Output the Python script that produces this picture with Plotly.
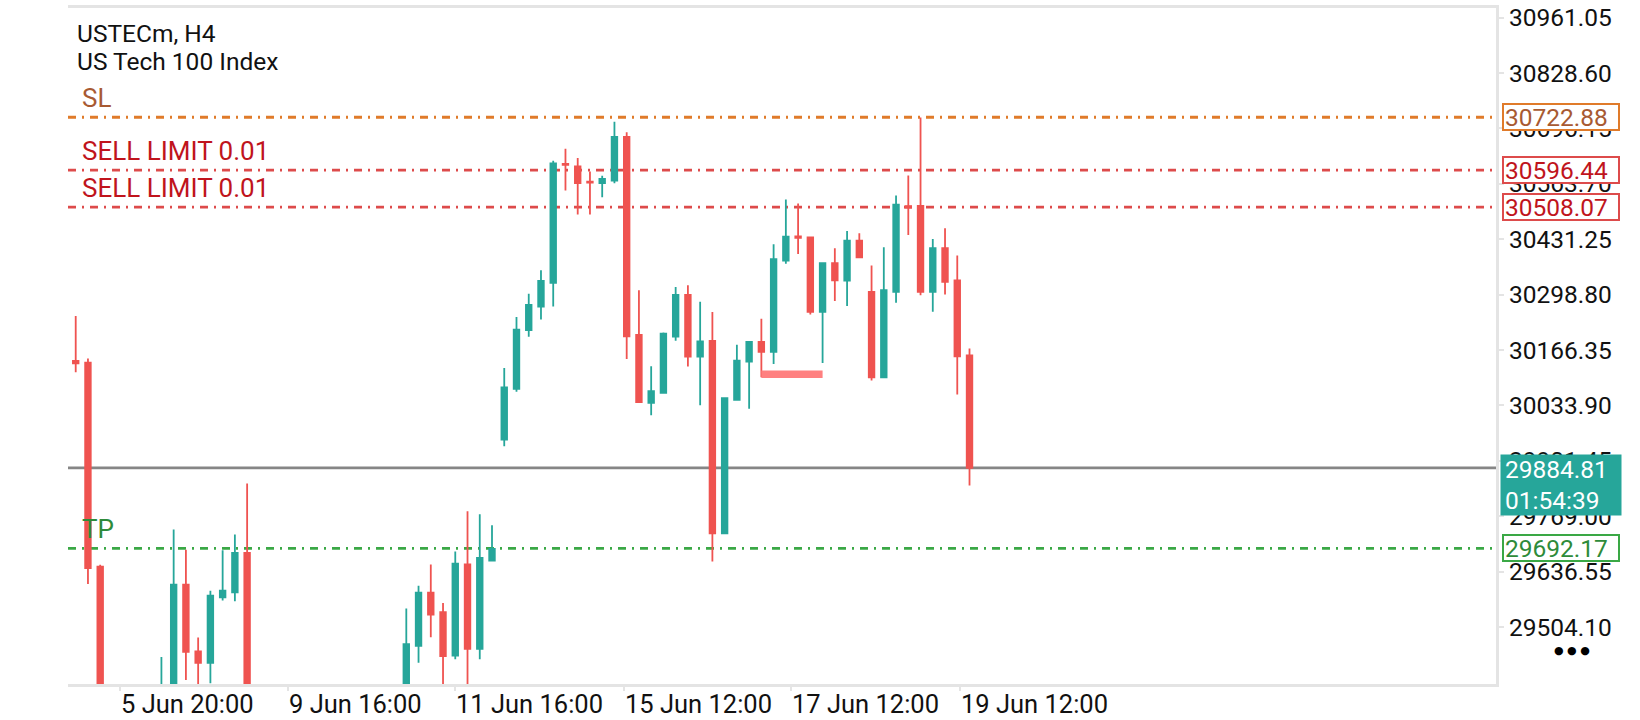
import plotly.graph_objects as go

# USTECm H4 candles (prices below the visible floor are estimated)
opens = [30140.5, 30136.0, 29648.9, 29290, 29215, 29270, 29300, 29320, 29360, 29605.4,
         29446.0, 29418.7, 29575.3, 29587.2, 29681.4, 29330, 29270, 29290, 29320, 29280,
         29250, 29230, 29270, 29310, 29290, 29320, 29300, 29330, 29459.0, 29586.4,
         29539.9, 29436.2, 29653.8, 29452.1, 29662.9, 29952.3, 30073.6, 30214.1, 30270.3, 30327.3,
         30611.5, 30605.6, 30568.8, 30565.3, 30571.4, 30675.8, 30202.7, 30040.4, 30064.1, 30198.7,
         30298.3, 30150.5, 30188.4, 29728.1, 30047.5, 30138.6, 30186.1, 30162.3, 30380.2, 30438.3,
         30435.9, 30258.0, 30374.2, 30332.2, 30428.1, 30305.4, 30101.4, 30305.4, 30510.7, 30511.2,
         30305.4, 30409.8, 30333.2, 30153.6]
highs = [30247.8, 30146.4, 29652.9, 29335, 29290, 29340, 29360, 29432.9, 29737.6, 29689.2,
         29479.0, 29591.2, 29687.8, 29725.7, 29847.5, 29365, 29310, 29350, 29355, 29330,
         29300, 29290, 29340, 29350, 29340, 29360, 29355, 29548.5, 29603.0, 29653.8,
         29561.8, 29684.7, 29781.3, 29774.1, 29747.8, 30123.7, 30245.6, 30300.9, 30357.2, 30618.7,
         30647.6, 30625.8, 30593.3, 30582.8, 30711.9, 30687.2, 30309.5, 30127.5, 30208.1, 30317.3,
         30321.3, 30281.7, 30257.3, 30051.5, 30179.0, 30186.1, 30241.4, 30419.3, 30526.1, 30516.6,
         30435.9, 30374.2, 30409.8, 30450.9, 30445.4, 30368.8, 30412.2, 30535.6, 30583.8, 30722.3,
         30431.9, 30457.3, 30392.5, 30170.2]
lows = [30113.2, 29607.1, 29262.0, 29180, 29150, 29230, 29255, 29290, 29340, 29377.6,
        29350, 29370, 29567.5, 29565.8, 29300, 29240, 29200, 29250, 29260, 29220,
        29190, 29180, 29240, 29270, 29230, 29280, 29260, 29300, 29418.7, 29480.1,
        29360, 29427.5, 29350, 29427.5, 29662.9, 29936.7, 30066.5, 30198.2, 30239.5, 30270.3,
        30547.7, 30490.5, 30490.5, 30531.8, 30565.3, 30145.3, 30040.0, 30010.5, 30064.1, 30188.4,
        30126.8, 30034.2, 29660.9, 29728.1, 30047.5, 30026.1, 30101.4, 30132.9, 30372.6, 30396.3,
        30251.6, 30135.3, 30283.4, 30271.5, 30387.8, 30093.5, 30101.4, 30279.3, 30441.4, 30297.6,
        30258.0, 30299.0, 30060.3, 29842.7]
closes = [30134.6, 29645.0, 29290, 29215, 29270, 29300, 29320, 29360, 29605.4, 29444.8,
          29418.7, 29579.3, 29591.2, 29681.4, 29330, 29270, 29290, 29320, 29280, 29250,
          29230, 29270, 29310, 29290, 29320, 29300, 29330, 29463.1, 29586.4, 29533.8,
          29434.6, 29655.7, 29452.1, 29669.7, 29690.9, 30077.2, 30215.0, 30274.6, 30331.8, 30612.5,
          30609.2, 30565.3, 30566.5, 30575.7, 30675.8, 30199.1, 30042.0, 30068.1, 30205.8, 30298.3,
          30150.5, 30186.8, 29728.1, 30051.5, 30141.0, 30186.1, 30162.3, 30383.7, 30437.6, 30434.8,
          30258.0, 30374.2, 30333.2, 30428.1, 30387.8, 30101.4, 30309.5, 30514.2, 30507.1, 30305.4,
          30409.8, 30329.2, 30151.2, 29884.81]

# date labels on the time axis (bar positions)
date_pos = [3.6, 17.3, 31.0, 44.8, 58.45, 72.25]
date_text = ["5 Jun 20:00", "9 Jun 16:00", "11 Jun 16:00", "15 Jun 12:00", "17 Jun 12:00", "19 Jun 12:00"]

price_ticks = [29504.10, 29636.55, 29769.00, 29901.45, 30033.90, 30166.35,
               30298.80, 30431.25, 30563.70, 30696.15, 30828.60, 30961.05]

# order levels
level_names = ["SL", "SELL LIMIT 0.01", "SELL LIMIT 0.01", "TP"]
level_prices = [30722.88, 30596.44, 30508.07, 29692.17]
level_line_colors = ["#e07b2a", "#dd4b4b", "#dd4b4b", "#3aa845"]
level_text_colors = ["#a85a32", "#c0141c", "#c0141c", "#2e8b3a"]

current_price = 29884.81
countdown = "01:54:39"

# highlighted zone
zone_bars = [56, 61]
zone_prices = [30099.7, 30117.3]

UP = "#26a69a"
DOWN = "#ef5350"
FONT = "Roboto"

fig = go.Figure()
fig.add_trace(go.Candlestick(
    x=list(range(len(opens))), open=opens, high=highs, low=lows, close=closes,
    increasing=dict(line=dict(color=UP, width=1.8), fillcolor=UP),
    decreasing=dict(line=dict(color=DOWN, width=1.8), fillcolor=DOWN),
    whiskerwidth=0, showlegend=False, hoverinfo="skip"))

shapes = []
for p, c in zip(level_prices, level_line_colors):
    shapes.append(dict(type="line", xref="paper", x0=0, x1=1, yref="y", y0=p, y1=p,
                       line=dict(color=c, width=2.8, dash="8px,6px,2px,6px"), layer="below"))
shapes.append(dict(type="line", xref="paper", x0=0, x1=1, yref="y", y0=current_price, y1=current_price,
                   line=dict(color="#868686", width=2.8), layer="below"))
shapes.append(dict(type="rect", xref="x", x0=zone_bars[0], x1=zone_bars[1], yref="y",
                   y0=zone_prices[0], y1=zone_prices[1], fillcolor="#ff8080",
                   line=dict(width=0), layer="above"))

ann = []
ann.append(dict(text="USTECm, H4", xref="paper", yref="paper", x=0.005, y=0.962,
                xanchor="left", yanchor="middle", showarrow=False,
                font=dict(family=FONT, size=24.5, color="#111")))
ann.append(dict(text="US Tech 100 Index", xref="paper", yref="paper", x=0.005, y=0.921,
                xanchor="left", yanchor="middle", showarrow=False,
                font=dict(family=FONT, size=24.5, color="#111")))
for name, p, c, tc in zip(level_names, level_prices, level_line_colors, level_text_colors):
    ann.append(dict(text=name, xref="paper", yref="y", x=0.0085, y=p, xanchor="left",
                    yanchor="bottom", yshift=2, showarrow=False,
                    font=dict(family=FONT, size=26, color=tc)))
    ann.append(dict(text="%.2f" % p, xref="paper", yref="y", x=1, y=p, xanchor="left",
                    yanchor="middle", xshift=6, showarrow=False, align="left",
                    width=112, height=22, borderpad=1, borderwidth=2, bordercolor=c,
                    bgcolor="white", font=dict(family=FONT, size=24.5, color=tc)))
ann.append(dict(text="%.2f<br>%s" % (current_price, countdown), xref="paper", yref="y",
                x=1, y=current_price, xanchor="left", yanchor="top", xshift=4, yshift=14,
                showarrow=False, align="left", width=112, height=52, borderpad=4,
                bgcolor=UP, font=dict(family=FONT, size=24.5, color="white")))
ann.append(dict(text="● ● ●", xref="paper", yref="paper", x=1.0529, y=0.05,
                xanchor="center", yanchor="middle", showarrow=False,
                font=dict(family="DejaVu Sans", size=11, color="black")))
for pos, t in zip(date_pos, date_text):
    ann.append(dict(text=t, xref="x", yref="paper", x=pos, y=0, xanchor="left",
                    yanchor="top", xshift=-1, yshift=-3, showarrow=False,
                    font=dict(family=FONT, size=25.5, color="#111")))

fig.update_layout(
    width=1640, height=720,
    margin=dict(l=68, r=144, t=3, b=36),
    paper_bgcolor="white", plot_bgcolor="white",
    boxgap=0.35,
    shapes=shapes, annotations=ann,
    xaxis=dict(range=[-0.63, 116.0], rangeslider=dict(visible=False), showgrid=False,
               zeroline=False, showline=True, mirror=True, linecolor="#e4e4e4", linewidth=3,
               ticks="outside", tickvals=date_pos, ticklen=4, tickcolor="#e4e4e4",
               tickwidth=2, showticklabels=False),
    yaxis=dict(side="right", range=[29368.1, 30984.1], showgrid=False, zeroline=False,
               showline=True, linecolor="#e4e4e4", linewidth=3, ticks="outside",
               ticklen=5, tickcolor="#e4e4e4", tickwidth=2, tickvals=price_ticks,
               ticktext=["%.2f" % v for v in price_ticks],
               tickfont=dict(family=FONT, size=24.5, color="#111")),
    font=dict(family=FONT),
)

# the page's default body margin would push the figure off the window
fig.write_html("out.html", config={"displayModeBar": False},
               post_script="document.body.style.margin='0px';")
